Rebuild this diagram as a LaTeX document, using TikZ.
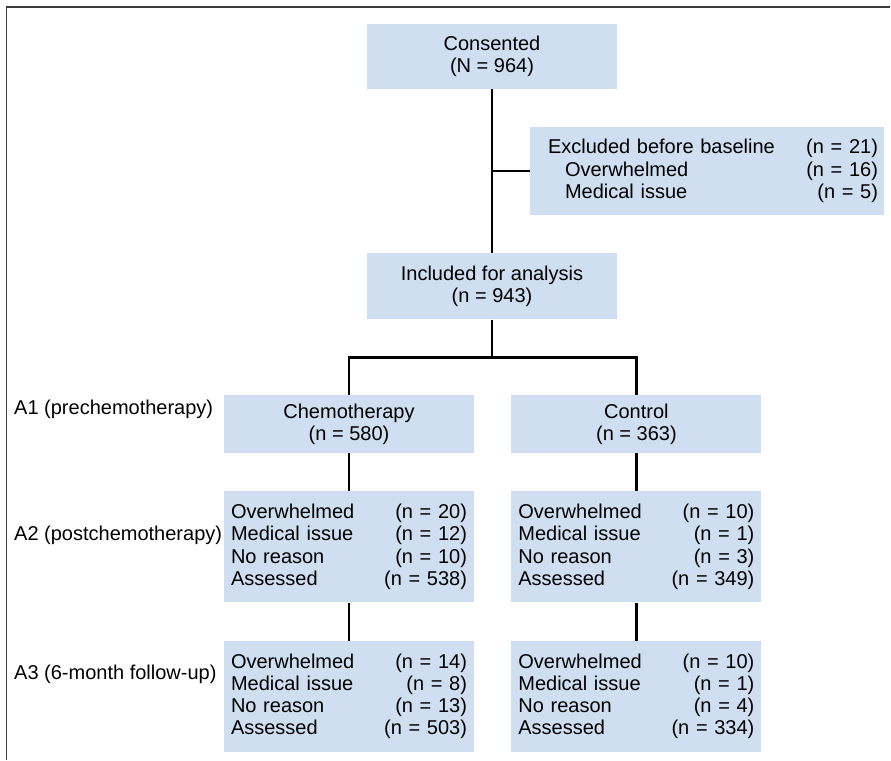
\documentclass[tikz,border=0pt]{standalone}
\usepackage{fontspec}
\setmainfont{Liberation Sans}
\usetikzlibrary{positioning}
\definecolor{boxblue}{RGB}{207,222,240}
\definecolor{framegray}{RGB}{60,60,60}

\begin{document}
\begin{tikzpicture}[x=1pt,y=1pt,node distance=38pt,
  every node/.style={font=\fontsize{20}{22.3}\selectfont},
  box/.style={fill=boxblue,minimum width=250pt,minimum height=65pt,inner sep=0pt,align=center},
  listbox/.style={fill=boxblue,text width=236pt,inner xsep=7pt,inner ysep=0pt,minimum height=111pt,align=left},
  exclbox/.style={fill=boxblue,text width=342pt,inner xsep=6pt,inner ysep=0pt,minimum height=88pt,align=left},
  link/.style={line width=2.5pt,black}]
\useasboundingbox (0,0) rectangle (891,-760);
\draw[framegray,line width=1.6pt] (890,-7) -- (6.5,-7) -- (6.5,-760);

% top of the flow
\node[box] (cons) at (492,-56.5) {Consented\\(N = 964)};
\node[box,minimum height=66pt,below=164pt of cons] (incl) {Included for analysis\\(n = 943)};
\node[exclbox] (excl) at (707,-171) {%
  \hspace*{12pt}Excluded before baseline\hfill(n = 21)\\
  \hspace*{29pt}Overwhelmed\hfill(n = 16)\\
  \hspace*{29pt}Medical issue\hfill(n = 5)};

% arms
\node[box,minimum height=58pt] (chemo) at (349,-424) {Chemotherapy\\(n = 580)};
\node[box,minimum height=58pt,right=37pt of chemo] (ctrl) {Control\\(n = 363)};

\node[listbox,below=of chemo] (chemoA2) {%
  Overwhelmed\hfill(n = 20)\\Medical issue\hfill(n = 12)\\
  No reason\hfill(n = 10)\\Assessed\hfill(n = 538)};
\node[listbox,below=of chemoA2] (chemoA3) {%
  Overwhelmed\hfill(n = 14)\\Medical issue\hfill(n = 8)\\
  No reason\hfill(n = 13)\\Assessed\hfill(n = 503)};
\node[listbox,below=of ctrl] (ctrlA2) {%
  Overwhelmed\hfill(n = 10)\\Medical issue\hfill(n = 1)\\
  No reason\hfill(n = 3)\\Assessed\hfill(n = 349)};
\node[listbox,below=of ctrlA2] (ctrlA3) {%
  Overwhelmed\hfill(n = 10)\\Medical issue\hfill(n = 1)\\
  No reason\hfill(n = 4)\\Assessed\hfill(n = 334)};

% time points
\node[anchor=west,inner xsep=0pt] (lblA1) at (14,-409) {A1 (prechemotherapy)};
\node[anchor=west,inner xsep=0pt] (lblA2) at (14,-535) {A2 (postchemotherapy)};
\node[anchor=west,inner xsep=0pt] (lblA3) at (14,-674) {A3 (6-month follow-up)};

% connectors
\draw[link] (cons) -- (incl);
\draw[link] (excl.west) -- (excl.west -| cons.south);
\coordinate[below=38pt of incl.south] (split);
\draw[link] (incl) -- (split);
\draw[link] (chemo.north) |- (split) -| (ctrl.north);
\draw[link] (chemo) -- (chemoA2);
\draw[link] (chemoA2) -- (chemoA3);
\draw[link] (ctrl) -- (ctrlA2);
\draw[link] (ctrlA2) -- (ctrlA3);
\end{tikzpicture}
\end{document}
